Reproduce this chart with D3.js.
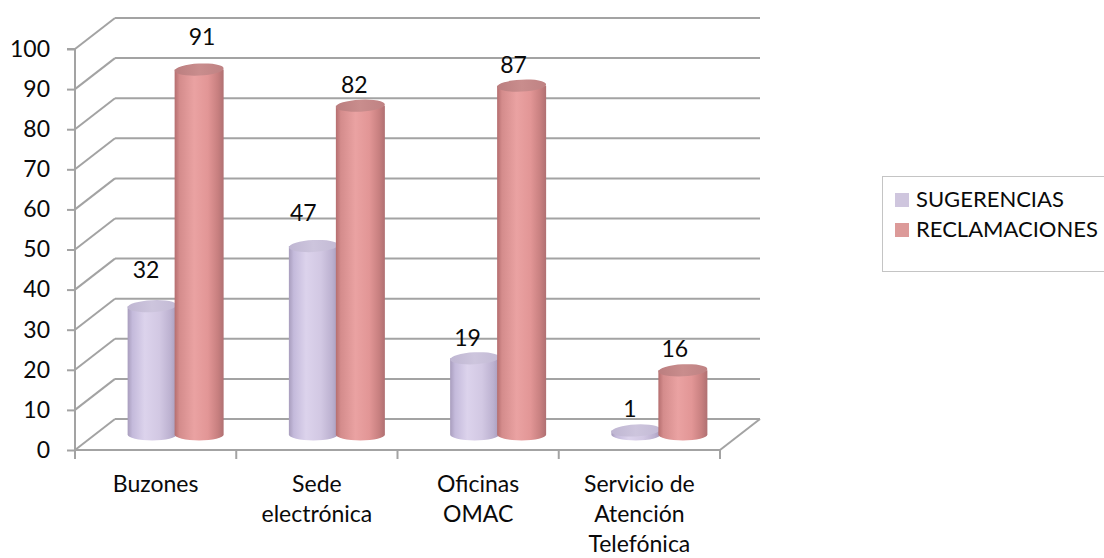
<!DOCTYPE html>
<html>
<head>
<meta charset="utf-8">
<script src="https://cdn.jsdelivr.net/npm/d3@7"></script>
<style>
  html, body { margin: 0; padding: 0; background: #fff; }
  svg { display: block; }
  text { font-family: Lato, "Open Sans", sans-serif; fill: #0a0a0a; }
</style>
</head>
<body>
<svg id="chart" width="1104" height="558"></svg>
<script>
// Categories and series
const categories = [["Buzones"], ["Sede", "electrónica"], ["Oficinas", "OMAC"], ["Servicio de", "Atención", "Telefónica"]];
const seriesNames = ["SUGERENCIAS", "RECLAMACIONES"];
const sugerencias = [32, 47, 19, 1];
const reclamaciones = [91, 82, 87, 16];
const yTicks = [0, 10, 20, 30, 40, 50, 60, 70, 80, 90, 100];

// Small label nudges (dx, lift above the cylinder top) per series
const labelNudgeSug = [[-6, 28], [-10, 25], [-7, 12], [-6, 13]];
const labelNudgeRec = [[3, 25], [-6, 13], [-8, 13], [-8, 13]];

const fontSize = "23px";
const legendFontSize = "22px";
const svg = d3.select("#chart");
const defs = svg.append("defs");

// 3D box geometry
const depthX = 40, depthY = -31;
const y = d3.scaleLinear().domain([0, 100]).range([450, 49]);
const catKeys = categories.map(c => c.join(" "));
const x = d3.scaleBand().domain(catKeys).range([75, 720]).padding(0);

const gridColor = "#a3a3a3";

// Gradients for the cylinders
function bodyGradient(id, stops) {
  const g = defs.append("linearGradient").attr("id", id)
    .attr("x1", "0%").attr("x2", "100%").attr("y1", "0%").attr("y2", "0%");
  stops.forEach(s => g.append("stop").attr("offset", s[0]).attr("stop-color", s[1]));
}
bodyGradient("sugBody", [["0%", "#a89dbd"], ["10%", "#c4badb"], ["35%", "#dcd3ec"], ["65%", "#d2c8e3"], ["88%", "#bcb1d0"], ["100%", "#a89cbc"]]);
bodyGradient("recBody", [["0%", "#b56e6f"], ["10%", "#d48c8c"], ["40%", "#eaa2a2"], ["68%", "#e29696"], ["88%", "#c88080"], ["100%", "#b07072"]]);
bodyGradient("sugTop", [["0%", "#bfb6d2"], ["50%", "#cdc5dd"], ["100%", "#c3bad5"]]);
bodyGradient("recTop", [["0%", "#bb7e7f"], ["50%", "#c98d8d"], ["100%", "#bf8283"]]);

const g = svg.append("g");

// Back wall grid lines and left side wall lines
yTicks.forEach(t => {
  const yf = y(t);
  g.append("line")
    .attr("x1", 75 + depthX).attr("x2", 760)
    .attr("y1", yf + depthY).attr("y2", yf + depthY)
    .attr("stroke", gridColor).attr("stroke-width", 2);
  g.append("line")
    .attr("x1", 75).attr("x2", 75 + depthX)
    .attr("y1", yf).attr("y2", yf + depthY)
    .attr("stroke", gridColor).attr("stroke-width", 2);
});

// Floor right edge
g.append("line")
  .attr("x1", 720).attr("y1", y(0))
  .attr("x2", 720 + depthX).attr("y2", y(0) + depthY)
  .attr("stroke", gridColor).attr("stroke-width", 2);

// Value axis
const yAxis = d3.axisLeft(y).tickValues(yTicks).tickSize(8).tickPadding(17);
const yAxisG = svg.append("g").attr("transform", "translate(75,0)").call(yAxis);
yAxisG.select(".domain").attr("stroke", gridColor).attr("stroke-width", 2).attr("d", `M-8,${y(100)}H0V${y(0)}`);
yAxisG.selectAll(".tick line").attr("stroke", gridColor).attr("stroke-width", 2);
yAxisG.selectAll(".tick text").style("font-size", fontSize).style("font-family", "Lato, sans-serif").attr("fill", "#0a0a0a");

// Category axis with ticks between categories
const xAxisG = svg.append("g");
xAxisG.append("line").attr("x1", 75).attr("x2", 720).attr("y1", y(0)).attr("y2", y(0))
  .attr("stroke", gridColor).attr("stroke-width", 2);
const boundaries = catKeys.map(k => x(k)).concat([x(catKeys[catKeys.length - 1]) + x.bandwidth()]);
xAxisG.selectAll("line.tk").data(boundaries).enter().append("line").attr("class", "tk")
  .attr("x1", d => d).attr("x2", d => d).attr("y1", y(0)).attr("y2", y(0) + 9)
  .attr("stroke", gridColor).attr("stroke-width", 2);
const catText = xAxisG.selectAll("text.cat").data(categories).enter().append("text").attr("class", "cat")
  .attr("text-anchor", "middle").style("font-size", fontSize);
catText.each(function (lines, i) {
  const cx = x(catKeys[i]) + x.bandwidth() / 2;
  lines.forEach((ln, j) => {
    d3.select(this).append("tspan").attr("x", cx).attr("y", 492 + j * 30).text(ln);
  });
});

// Cylinders
const r = 24.5, ry = 6;
const midX = depthX / 2, midY = depthY / 2;
function drawCylinder(cx, value, bodyId, topId) {
  const yb = y(0) + midY;
  const yt = y(value) + midY;
  const cg = g.append("g");
  cg.append("path")
    .attr("d", `M${cx - r},${yt} L${cx - r},${yb} A${r},${ry} 0 0 0 ${cx + r},${yb} L${cx + r},${yt} Z`)
    .attr("fill", `url(#${bodyId})`);
  cg.append("ellipse")
    .attr("cx", cx).attr("cy", yt).attr("rx", r).attr("ry", ry)
    .attr("transform", `rotate(-3,${cx},${yt})`)
    .attr("fill", `url(#${topId})`);
}

const labels = svg.append("g");
categories.forEach((c, i) => {
  const center = x(catKeys[i]) + x.bandwidth() / 2 + midX;
  const cs = center - 23.5, cr = center + 23.5;
  drawCylinder(cs, sugerencias[i], "sugBody", "sugTop");
  drawCylinder(cr, reclamaciones[i], "recBody", "recTop");
  labels.append("text").attr("text-anchor", "middle").style("font-size", fontSize)
    .attr("x", cs + labelNudgeSug[i][0])
    .attr("y", y(sugerencias[i]) + midY - labelNudgeSug[i][1])
    .text(sugerencias[i]);
  labels.append("text").attr("text-anchor", "middle").style("font-size", fontSize)
    .attr("x", cr + labelNudgeRec[i][0])
    .attr("y", y(reclamaciones[i]) + midY - labelNudgeRec[i][1])
    .text(reclamaciones[i]);
});

// Legend
const legend = svg.append("g");
legend.append("rect").attr("x", 882.5).attr("y", 176.5).attr("width", 240).attr("height", 95)
  .attr("fill", "#fff").attr("stroke", "#c4c4c4").attr("stroke-width", 1);
const swatchColors = ["#cfc6de", "#dc9a99"];
seriesNames.forEach((name, i) => {
  legend.append("rect").attr("x", 895).attr("y", 193 + i * 30).attr("width", 14).attr("height", 14)
    .attr("fill", swatchColors[i]);
  legend.append("text").attr("x", 916).attr("y", 207 + i * 30).style("font-size", legendFontSize).text(name);
});
</script>
</body>
</html>
